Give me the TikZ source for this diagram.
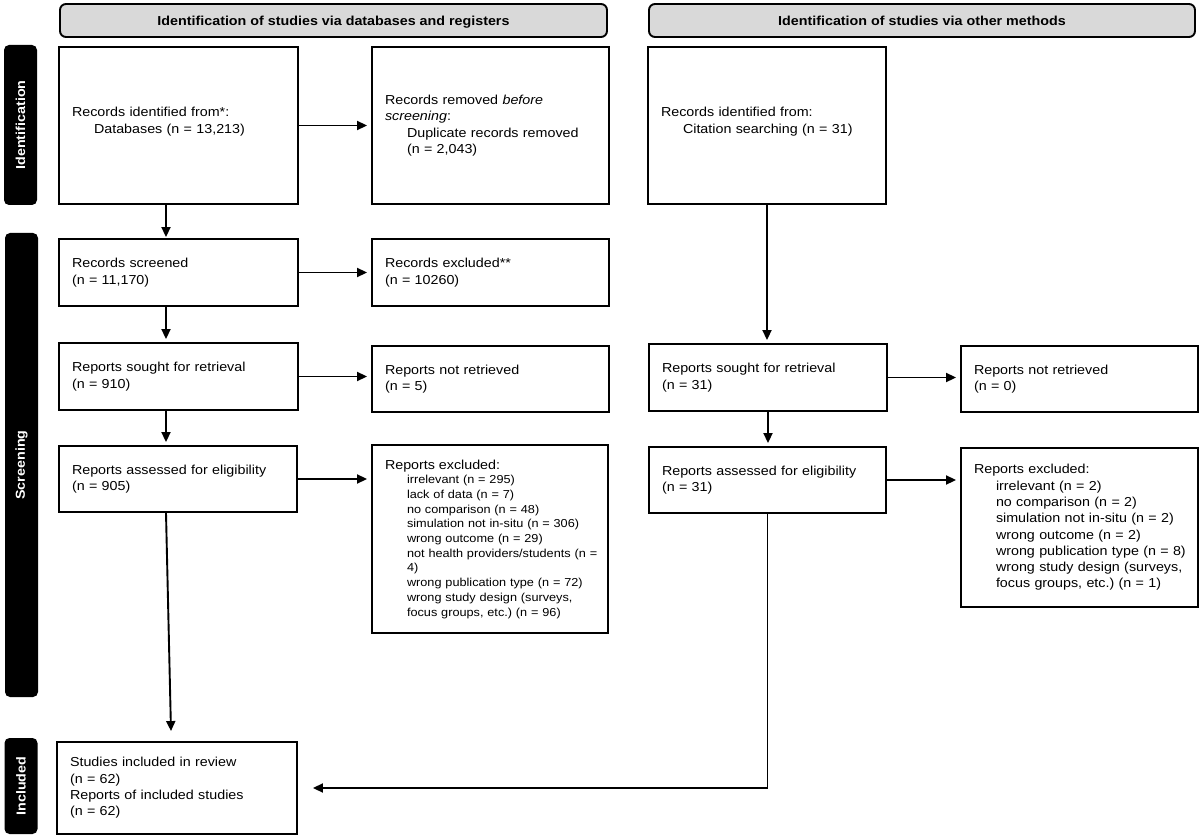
\documentclass[tikz,border=0pt]{standalone}
\usepackage{fontspec}
\setmainfont{Liberation Sans}[FakeStretch=1.1]
\usetikzlibrary{arrows.meta,calc}
\definecolor{hdrgray}{RGB}{217,217,217}
\newcommand\mainsz{\fontsize{13}{16.3}\selectfont}
\newcommand\listsz{\fontsize{11.55}{14.7}\selectfont}
\newcommand\ind{\hspace*{22pt}}
\begin{document}
\begin{tikzpicture}[x=1pt,y=-1pt,
  bx/.style={draw, line width=1.9pt, align=left, inner xsep=13pt, inner ysep=0pt, font=\mainsz},
  hdr/.style={draw, line width=1.9pt, fill=hdrgray, rounded corners=6pt, align=center, font=\mainsz\bfseries, minimum height=33pt, text depth=0pt},
  side/.style={fill=black, rounded corners=5pt, rotate=90, text=white, font=\mainsz\bfseries, minimum height=33pt, inner sep=0pt},
  arr/.style={line width=1.9pt, -{Triangle[length=10pt,width=9pt]}, shorten >=3pt}]
\useasboundingbox (0,0) rectangle (1200,837);
% headers
\node[hdr, minimum width=547pt] (h1) at (333.5,20.5) {Identification of studies via databases and registers};
\node[hdr, minimum width=546pt] (h2) at (922,20.5) {Identification of studies via other methods};
% side bars
\node[side, minimum width=160pt] (s1) at (20.5,125) {Identification};
\node[side, minimum width=464pt] (s2) at (21.5,465) {Screening};
\node[side, minimum width=96pt] (s3) at (21,786) {Included};
% left column
\node[bx, minimum height=157pt, text width=213pt] (A) at (178.5,125.5)
  {Records identified from*:\\\ind Databases (n = 13,213)\\[-6pt]\mbox{}};
\node[bx, minimum height=157pt, text width=211pt] (B) at (490.5,125.5)
  {Records removed \textit{before}\\\textit{screening}:\\\ind Duplicate records removed\\\ind (n = 2,043)};
\node[bx, minimum height=67pt, text width=213pt] (D) at (178.5,272.5)
  {Records screened\\(n = 11,170)};
\node[bx, minimum height=67pt, text width=211pt] (E) at (490.5,272.5)
  {Records excluded**\\(n = 10260)};
\node[bx, minimum height=67pt, text width=213pt] (F) at (178.5,376.5)
  {Reports sought for retrieval\\(n = 910)};
\node[bx, minimum height=66pt, text width=211pt] (G) at (490.5,379)
  {Reports not retrieved\\(n = 5)};
\node[bx, minimum height=66pt, text width=212pt] (H) at (178,479)
  {Reports assessed for eligibility\\(n = 905)};
\node[bx, minimum height=188pt, text width=210pt, font=\listsz] (I) at (490,539)
  {{\fontsize{13}{14.7}\selectfont Reports excluded:}\\
   \ind irrelevant (n = 295)\\
   \ind lack of data (n = 7)\\
   \ind no comparison (n = 48)\\
   \ind simulation not in-situ (n = 306)\\
   \ind wrong outcome (n = 29)\\
   \ind \mbox{not health providers/students (n =}\\
   \ind 4)\\
   \ind wrong publication type (n = 72)\\
   \ind wrong study design (surveys,\\
   \ind focus groups, etc.)\ (n = 96)};
\node[bx, minimum height=92pt, text width=214pt] (N) at (177,788)
  {Studies included in review\\(n = 62)\\Reports of included studies\\(n = 62)};
% right column
\node[bx, minimum height=157pt, text width=212pt] (C) at (767,125.5)
  {Records identified from:\\\ind Citation searching (n = 31)\\[-6pt]\mbox{}};
\node[bx, minimum height=67pt, text width=212pt] (J) at (768,377.5)
  {Reports sought for retrieval\\(n = 31)};
\node[bx, minimum height=66pt, text width=211pt] (K) at (1079.5,379)
  {Reports not retrieved\\(n = 0)};
\node[bx, minimum height=66pt, text width=211pt] (L) at (767.5,480)
  {Reports assessed for eligibility\\(n = 31)};
\node[bx, minimum height=159pt, text width=211pt] (M) at (1079.5,527.5)
  {Reports excluded:\\
   \ind irrelevant (n = 2)\\
   \ind no comparison (n = 2)\\
   \ind simulation not in-situ (n = 2)\\
   \ind wrong outcome (n = 2)\\
   \ind \mbox{wrong publication type (n = 8)}\\
   \ind \mbox{wrong study design (surveys,}\\
   \ind focus groups, etc.)\ (n = 1)};
% connectors left
\draw[arr, shorten >=1pt] ($(A.south)+(-12.5,0)$) -- ($(D.north)+(-12.5,0)$);
\draw[arr] ($(D.south)+(-12.5,0)$) -- ($(F.north)+(-12.5,0)$);
\draw[arr] ($(F.south)+(-12.5,0)$) -- ($(H.north)+(-12,0)$);
\draw[arr, shorten >=0pt] ($(H.south)+(-12,0)$) -- ($(N.north)+(-6,-10)$);
\draw[arr, shorten >=4pt] (A.east) -- (A.east -| B.west);
\draw[arr, shorten >=4pt] (D.east) -- (D.east -| E.west);
\draw[arr, shorten >=4pt] (F.east) -- (F.east -| G.west);
\draw[arr, shorten >=4pt] (H.east) -- (H.east -| I.west);
% connectors right
\draw[arr] (C.south) -- (C.south |- J.north);
\draw[arr] (J.south) -- (J.south |- L.north);
\draw[arr, shorten >=4pt] (J.east) -- (J.east -| K.west);
\draw[arr, shorten >=4pt] (L.east) -- (L.east -| M.west);
\draw[arr, shorten >=15pt] (L.south) |- (N.east);
\end{tikzpicture}
\end{document}
